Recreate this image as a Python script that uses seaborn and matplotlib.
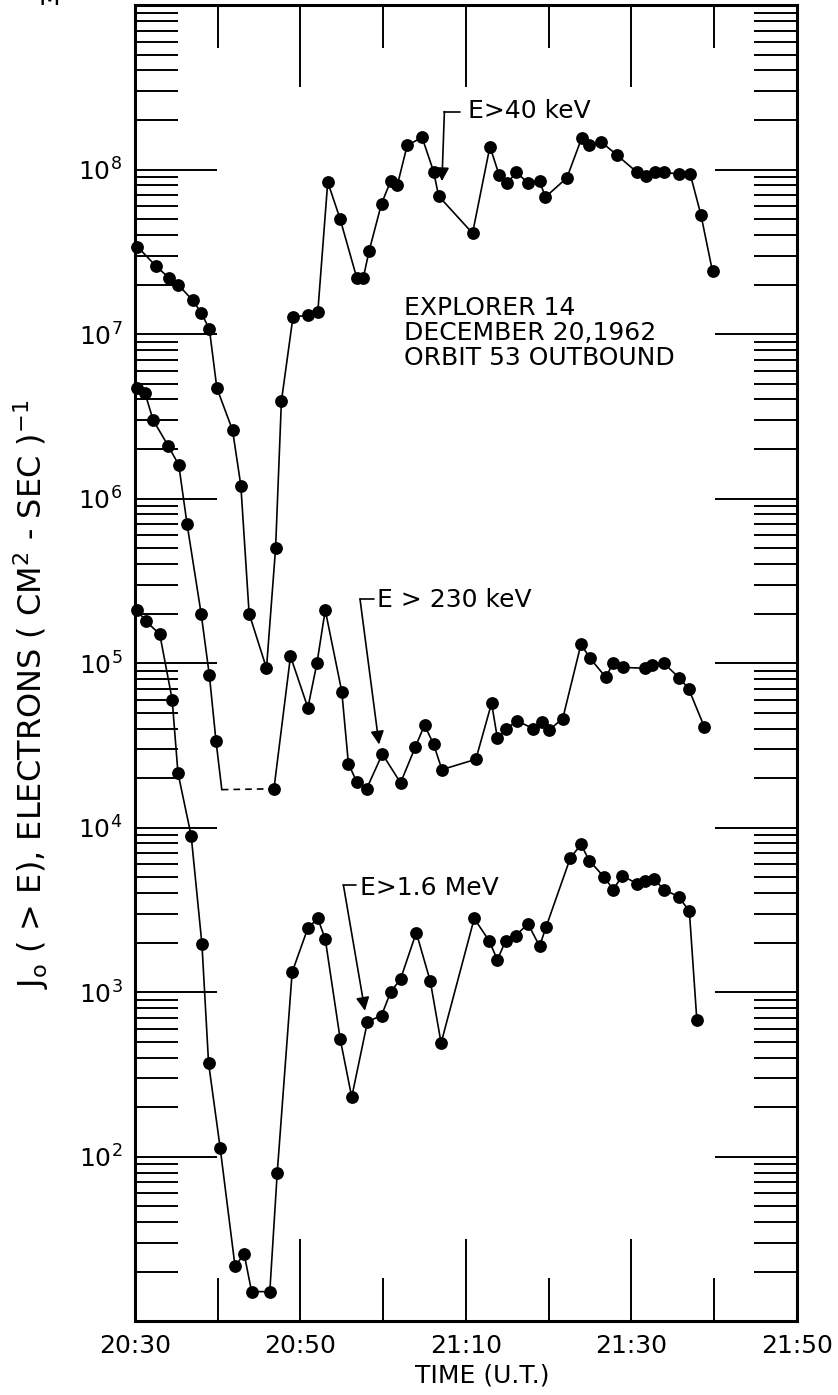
import numpy as np
import pandas as pd
import seaborn as sns
import matplotlib.pyplot as plt
from matplotlib.ticker import FixedLocator, FixedFormatter, LogLocator, NullFormatter

# --- data: minutes after 20:30 UT, omnidirectional flux J0(>E) ---
t_40kev = [0.3, 2.5, 4.1, 5.2, 7.0, 8.0, 9.0, 9.9, 11.8, 12.8, 13.8, 15.9, 17.0, 17.7,
           19.1, 20.9, 22.1, 23.3, 24.8, 26.8, 27.6, 28.3, 29.8, 30.9, 31.7, 32.9,
           34.7, 36.1, 36.7, 40.8, 42.9, 44.0, 45.0, 46.1, 47.5, 48.9, 49.6, 52.2,
           54.0, 54.9, 56.3, 58.2, 60.7, 61.7, 62.9, 63.9, 65.8, 67.1, 68.4, 69.8]
j_40kev = [3.4e7, 2.6e7, 2.2e7, 2.0e7, 1.6e7, 1.35e7, 1.07e7, 4.7e6, 2.6e6, 1.2e6, 2.0e5,
           9.3e4, 5.0e5, 3.9e6, 1.27e7, 1.3e7, 1.36e7, 8.4e7, 5.0e7, 2.2e7, 2.2e7, 3.2e7,
           6.2e7, 8.5e7, 8.0e7, 1.4e8, 1.57e8, 9.7e7, 6.9e7, 4.1e7, 1.38e8, 9.3e7, 8.3e7,
           9.6e7, 8.3e7, 8.5e7, 6.8e7, 8.9e7, 1.56e8, 1.4e8, 1.48e8, 1.23e8, 9.6e7, 9.1e7,
           9.7e7, 9.6e7, 9.4e7, 9.4e7, 5.3e7, 2.4e7]

t_230kev = [0.2, 1.2, 2.2, 4.0, 5.3, 6.3, 8.0, 9.0, 9.8, 16.8, 18.8, 20.9, 22.0, 23.0,
            25.0, 25.8, 26.8, 28.0, 29.9, 32.1, 33.9, 35.0, 36.1, 37.1, 41.2, 43.1,
            43.8, 44.9, 46.2, 48.1, 49.2, 50.0, 51.7, 53.9, 55.0, 56.9, 57.8, 59.0,
            61.6, 62.5, 63.9, 65.8, 66.9, 68.8]
j_230kev = [4.7e6, 4.4e6, 3.0e6, 2.1e6, 1.6e6, 7.0e5, 2.0e5, 8.4e4, 3.35e4, 1.72e4, 1.1e5,
            5.35e4, 1.0e5, 2.1e5, 6.7e4, 2.44e4, 1.9e4, 1.72e4, 2.8e4, 1.87e4, 3.1e4,
            4.2e4, 3.2e4, 2.25e4, 2.6e4, 5.7e4, 3.5e4, 4.0e4, 4.45e4, 4.0e4, 4.4e4,
            3.9e4, 4.6e4, 1.3e5, 1.07e5, 8.2e4, 1.0e5, 9.4e4, 9.3e4, 9.7e4, 1.0e5,
            8.1e4, 7.0e4, 4.1e4]
# background level of the 230 keV channel during the gap (dashed)
gap_start_230 = 10.5
floor_230 = 1.7e4
n_before_gap = 9

t_1600kev = [0.25, 1.3, 3.0, 4.5, 5.2, 6.8, 8.1, 8.9, 10.3, 12.1, 13.2, 14.1, 16.3, 17.2,
             19.0, 20.9, 22.1, 23.0, 24.8, 26.2, 28.1, 29.8, 30.9, 32.1, 34.0, 35.7,
             37.0, 41.0, 42.8, 43.8, 44.8, 46.0, 47.5, 48.9, 49.7, 52.6, 53.9, 54.9,
             56.7, 57.8, 58.9, 60.7, 61.6, 62.7, 63.9, 65.7, 67.0, 67.9]
j_1600kev = [2.1e5, 1.8e5, 1.5e5, 6.0e4, 2.15e4, 8.9e3, 1.95e3, 3.7e2, 1.13e2, 21.5, 25.6,
             15.1, 15.1, 80, 1.32e3, 2.45e3, 2.8e3, 2.1e3, 5.2e2, 2.3e2, 6.6e2, 7.2e2,
             1.0e3, 1.2e3, 2.3e3, 1.16e3, 4.9e2, 2.8e3, 2.05e3, 1.57e3, 2.05e3, 2.2e3,
             2.6e3, 1.9e3, 2.5e3, 6.5e3, 7.9e3, 6.3e3, 5.0e3, 4.2e3, 5.1e3, 4.55e3,
             4.7e3, 4.9e3, 4.2e3, 3.8e3, 3.1e3, 6.8e2]

time_ticks = [0, 20, 40, 60, 80]
time_labels = ["20:30", "20:50", "21:10", "21:30", "21:50"]
time_minor = [10, 30, 50, 70]
decades = [1e1, 1e2, 1e3, 1e4, 1e5, 1e6, 1e7, 1e8, 1e9]
decade_labels = ["", "$10^2$", "$10^3$", "$10^4$", "$10^5$", "$10^6$", "$10^7$", "$10^8$", ""]

# --- style ---
sns.set_theme(style="white")
plt.rcParams['font.family'] = ['DejaVu Sans']
plt.rcParams['mathtext.fontset'] = 'dejavusans'
plt.rcParams['text.color'] = 'black'
plt.rcParams['axes.labelcolor'] = 'black'

fig = plt.figure(figsize=(8.38, 13.95), dpi=100)
ax = fig.add_axes([0.161, 0.053, 0.79, 0.9434])

line_kw = dict(color='black', lw=1.2, sort=False, estimator=None, legend=False, ax=ax)
dot_kw = dict(color='black', s=85, linewidth=0, legend=False, ax=ax, zorder=3, clip_on=False)

# E > 40 keV
sns.lineplot(x=t_40kev, y=j_40kev, **line_kw)
sns.scatterplot(x=t_40kev, y=j_40kev, **dot_kw)

# E > 230 keV (solid, dashed gap, solid)
sns.lineplot(x=t_230kev[:n_before_gap] + [gap_start_230],
             y=j_230kev[:n_before_gap] + [floor_230], **line_kw)
sns.lineplot(x=[gap_start_230, t_230kev[n_before_gap]],
             y=[floor_230, j_230kev[n_before_gap]], linestyle=(0, (4, 3)), **line_kw)
sns.lineplot(x=t_230kev[n_before_gap:], y=j_230kev[n_before_gap:], **line_kw)
sns.scatterplot(x=t_230kev, y=j_230kev, **dot_kw)

# E > 1.6 MeV
sns.lineplot(x=t_1600kev, y=j_1600kev, **line_kw)
sns.scatterplot(x=t_1600kev, y=j_1600kev, **dot_kw)

# --- axes ---
ax.set_yscale('log')
ax.set_xlim(0, 80)
ax.set_ylim(1e1, 1e9)
ax.xaxis.set_major_locator(FixedLocator(time_ticks))
ax.xaxis.set_major_formatter(FixedFormatter(time_labels))
ax.xaxis.set_minor_locator(FixedLocator(time_minor))
ax.yaxis.set_major_locator(FixedLocator(decades))
ax.yaxis.set_major_formatter(FixedFormatter(decade_labels))
ax.yaxis.set_minor_locator(LogLocator(base=10, subs=np.arange(2, 10), numticks=30))
ax.yaxis.set_minor_formatter(NullFormatter())

ax.tick_params(which='major', direction='in', length=59, width=1.4, top=True, right=True,
               bottom=True, left=True, labelsize=18, pad=9, colors='black')
ax.tick_params(which='minor', direction='in', length=31, width=1.4, top=True, right=True,
               bottom=True, left=True, colors='black')
for sp in ax.spines.values():
    sp.set_linewidth(2.2)
    sp.set_color('black')

ax.set_xlabel("TIME (U.T.)", fontsize=18)
ax.xaxis.set_label_coords(0.524, -0.041)
ax.xaxis.label.set_va('center')
ax.set_ylabel(r"J$_\mathregular{o}$ ( > E), ELECTRONS ( CM$^2$ - SEC )$^{-1}$", fontsize=23)
ax.yaxis.set_label_coords(-0.156, 0.476)
ax.yaxis.label.set_va('center')

# --- annotations ---
def bracket(text, text_xy, corner, bar_end, tip):
    ax.text(text_xy[0], text_xy[1], text, fontsize=18, va='center', ha='left')
    ax.plot([corner[0], bar_end], [corner[1], corner[1]], color='black', lw=1.2)
    ax.annotate('', xy=tip, xytext=corner,
                arrowprops=dict(arrowstyle='-|>', color='black', lw=1.2,
                                mutation_scale=20, shrinkA=0, shrinkB=0))

bracket("E>40 keV", (40.2, 2.28e8), (37.4, 2.25e8), 39.3, (37.1, 8.5e7))
bracket("E > 230 keV", (29.3, 2.43e5), (27.2, 2.45e5), 28.9, (29.5, 3.2e4))
bracket("E>1.6 MeV", (27.2, 4.3e3), (25.2, 4.45e3), 26.7, (27.8, 7.7e2))

ax.text(0.406, 0.779, "EXPLORER 14\nDECEMBER 20,1962\nORBIT 53 OUTBOUND",
        transform=ax.transAxes, va='top', ha='left', fontsize=18, linespacing=1.05)

fig.text(49 / 838, 1 - 5 / 1395, "M", ha='center', va='baseline', fontsize=18)

fig.savefig("out.png", dpi=100, facecolor='white')
